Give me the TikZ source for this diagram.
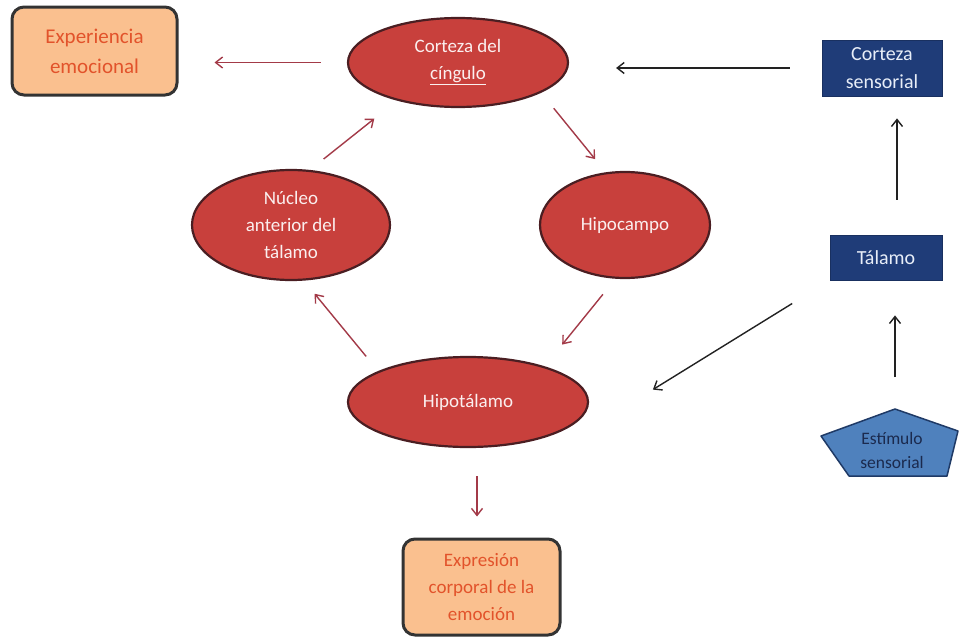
\documentclass[tikz,border=0pt]{standalone}
\usepackage{fontspec}
\setmainfont{Carlito}
\usetikzlibrary{shapes.geometric,arrows.meta}

\definecolor{ovalfill}{HTML}{C8403C}
\definecolor{ovaledge}{HTML}{4A1E22}
\definecolor{ovaltext}{HTML}{FBEFEF}
\definecolor{peach}{HTML}{FAC08F}
\definecolor{peachedge}{HTML}{333333}
\definecolor{peachtext}{HTML}{E2532B}
\definecolor{navy}{HTML}{1F3C78}
\definecolor{navytext}{HTML}{E8EEF8}
\definecolor{stimfill}{HTML}{4F81BD}
\definecolor{stimedge}{HTML}{1F3A66}
\definecolor{stimtext}{HTML}{1B2A4E}
\definecolor{redarrow}{HTML}{A33A48}
\definecolor{blackarrow}{HTML}{222222}

\tikzset{
  oval/.style={ellipse, draw=ovaledge, line width=2.2pt, fill=ovalfill,
    text=ovaltext, inner sep=0pt, align=center,
    font=\fontsize{19}{27}\selectfont},
  peachbox/.style={rectangle, rounded corners=12pt, draw=peachedge,
    line width=3pt, fill=peach, text=peachtext, inner sep=0pt, align=center},
  navybox/.style={rectangle, fill=navy, draw=navy!80!black, line width=0.8pt,
    text=navytext, inner sep=0pt, align=center,
    font=\fontsize{20}{28}\selectfont},
  redlink/.style={draw=redarrow, line width=1.4pt,
    -{Straight Barb[length=7pt,width=11pt,line width=1.4pt]}},
  blacklink/.style={draw=blackarrow, line width=1.4pt,
    -{Straight Barb[length=7pt,width=11pt,line width=1.4pt]}}
}

\begin{document}
\begin{tikzpicture}[x=1pt,y=-1pt]
  \useasboundingbox[fill=white] (0,0) rectangle (959,637);

  % limbic circuit
  \node[oval, minimum width=220pt, minimum height=89pt] (cing) at (458,62.5)
    {Corteza del\\\underline{cíngulo}};
  \node[oval, minimum width=198pt, minimum height=110pt] (nuc) at (291,225)
    {Núcleo\\anterior del\\tálamo};
  \node[oval, minimum width=170pt, minimum height=106pt] (hip) at (625,225)
    {Hipocampo};
  \node[oval, minimum width=240pt, minimum height=90pt] (hipot) at (468,402)
    {Hipotálamo};

  % outputs
  \node[peachbox, minimum width=165pt, minimum height=88pt,
        font=\fontsize{21}{30}\selectfont] (exp) at (94.5,51)
    {Experiencia\\emocional};
  \node[peachbox, minimum width=157pt, minimum height=96pt,
        font=\fontsize{19}{27}\selectfont] (expr) at (481.5,587)
    {Expresión\\corporal de la\\emoción};

  % sensory pathway
  \node[navybox, minimum width=120pt, minimum height=56pt] (cs) at (882,68)
    {Corteza\\sensorial};
  \node[navybox, minimum width=112pt, minimum height=45pt] (tal) at (886,257.5)
    {Tálamo};

  % stimulus pentagon
  \coordinate (est-top) at (895,409);
  \draw[fill=stimfill, draw=stimedge, line width=1.5pt, line join=round]
    (est-top) -- (958,431) -- (947,476) -- (849,476) -- (821,436) -- cycle;
  \node[text=stimtext, align=center, inner sep=0pt,
        font=\fontsize{17.5}{24}\selectfont] (est) at (892,450)
    {Estímulo\\sensorial};

  % connectors of the circuit
  \draw[redlink, shorten <=26pt, shorten >=36pt] (cing.west) -- (cing.west -| exp.east);
  \draw[redlink, shorten <=20pt, shorten >=17pt] (cing.-20) -- (hip.110);
  \draw[redlink, shorten <=20pt, shorten >=28pt] (hip.-100) -- (hipot.25);
  \draw[redlink, shorten <=19pt, shorten >=17pt] (hipot.161) -- (nuc.-77);
  \draw[redlink, shorten <=17.5pt, shorten >=29pt] (nuc.71) -- (cing.-148);
  \draw[redlink, shorten <=28pt, shorten >=21pt]
    ([xshift=9pt]hipot.south) -- ([xshift=-4.5pt]expr.north);

  % connectors of the sensory pathway
  \draw[blacklink, shorten <=32pt, shorten >=35pt] (est-top) -- ([xshift=9pt]tal.south);
  \draw[blacklink, shorten <=35pt, shorten >=22pt]
    ([xshift=11pt]tal.north) -- ([xshift=15pt]cs.south);
  \draw[blacklink, shorten <=32pt, shorten >=47pt] (cs.west) -- (cs.west -| cing.east);
  \draw[blacklink, shorten <=44pt, shorten >=75pt]
    (tal.south west) -- ([yshift=-27pt]hipot.east);
\end{tikzpicture}
\end{document}
